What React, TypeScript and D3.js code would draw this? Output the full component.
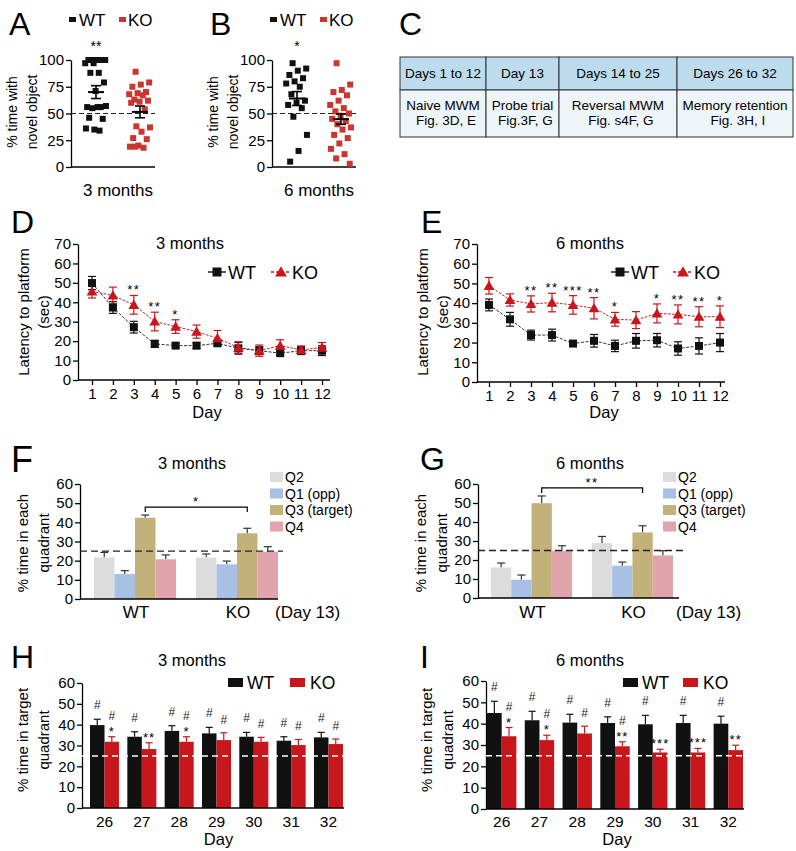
import React, { useEffect, useRef } from "react";
import * as d3 from "d3";

const FONT = "'Liberation Sans', Arial, Helvetica, sans-serif";
const BLACK = "#111111";
const RED = "#c8161d";
const RED_DOT = "#c9352f";

// ---- A / B : novel object recognition (% time with novel object)
const groups = ["WT", "KO"];
const novelTicks = [0, 25, 50, 75, 100];
const novelWT3 = [100, 100, 100, 100, 100, 97, 97, 88, 88, 79, 71, 56, 56, 55, 57, 56, 46, 45, 35, 36, 34];
const novelKO3 = [89, 79, 77, 75, 70, 69, 68, 67, 63, 62, 61, 60, 54, 38, 37, 33, 27, 26, 20, 19, 18, 19];
const novelMean3 = [70, 51.5];
const novelSem3 = [6, 5.5];
const novelWT6 = [97, 92, 90, 86, 83, 80, 78, 75, 68, 62, 60, 58, 55, 47, 30, 15, 5];
const novelKO6 = [97, 77, 72, 70, 67, 62, 58, 55, 52, 50, 48, 45, 43, 40, 37, 35, 30, 27, 22, 17, 12, 8, 3];
const novelMean6 = [64, 44.7];
const novelSem6 = [6.5, 4.8];

// ---- C : protocol table
const phaseDays = ["Days 1 to 12", "Day 13", "Days 14 to 25", "Days 26 to 32"];
const phaseTask = ["Naive MWM", "Probe trial", "Reversal MWM", "Memory retention"];
const phaseFig = ["Fig. 3D, E", "Fig.3F, G", "Fig. s4F, G", "Fig. 3H, I"];

// ---- D / E : latency to platform (sec)
const days = [1, 2, 3, 4, 5, 6, 7, 8, 9, 10, 11, 12];
const latTicks = [0, 10, 20, 30, 40, 50, 60, 70];
const latWT3 = [49.9, 37.3, 27.2, 18.6, 17.7, 17.7, 18.9, 16.3, 15.1, 13.8, 15.1, 15.1];
const latWT3Sem = [3.4, 3, 3, 1.8, 1, 1.5, 1, 3, 2, 1, 2, 2.5];
const latKO3 = [45.6, 43.5, 38.7, 30.1, 27.5, 24.9, 21.5, 16.7, 15.1, 17.7, 15.5, 16.7];
const latKO3Sem = [3.4, 4.3, 4.8, 4.8, 3.5, 3.4, 4, 3, 2.9, 3, 2, 2.6];
const latStars3 = ["", "", "**", "**", "*", "", "", "", "", "", "", ""];
const latWT6 = [39.1, 31.8, 23.8, 23.8, 19.5, 20.9, 18.3, 20.9, 21.2, 17, 18.3, 20];
const latWT6Sem = [3, 3.5, 2.5, 3, 1, 3.2, 2.9, 3.7, 3.4, 3.4, 4.1, 4.6];
const latKO6 = [48.8, 41.6, 39.6, 40.3, 39.1, 37.4, 31.8, 31.4, 34.8, 34.3, 33.1, 33.1];
const latKO6Sem = [4.2, 3.1, 4.1, 4.7, 4.7, 5.4, 3.5, 4.3, 4.8, 4.8, 5.1, 5.5];
const latStars6 = ["", "", "**", "**", "***", "**", "*", "", "*", "**", "**", "*"];

// ---- F / G : probe trial, % time in each quadrant
const quadrants = ["Q2", "Q1 (opp)", "Q3 (target)", "Q4"];
const quadColors = ["#dcdcdc", "#a8c0e4", "#c2b27a", "#e1a3ac"];
const pctTicks = [0, 10, 20, 30, 40, 50, 60];
const probeWT3 = [21.7, 13, 42.4, 20.7];
const probeWT3Sem = [2.6, 1.8, 1.4, 2.3];
const probeKO3 = [21.6, 18.1, 34.3, 24.7];
const probeKO3Sem = [1.9, 1.7, 2.6, 2.6];
const probeWT6 = [16.1, 9.6, 49.9, 24.9];
const probeWT6Sem = [2.3, 2.5, 3.8, 2.6];
const probeKO6 = [28.9, 17, 34.5, 22.4];
const probeKO6Sem = [3.5, 1.9, 3.5, 2.5];

// ---- H / I : memory retention, % time in target quadrant
const retDays = ["26", "27", "28", "29", "30", "31", "32"];
const retWT3 = [39.8, 34.2, 37, 35.8, 34.2, 32.3, 33.9];
const retWT3Sem = [2.8, 2.4, 2.5, 2.9, 2.1, 1.9, 2.4];
const retKO3 = [31.8, 28.3, 31.8, 32.6, 31.8, 30.2, 30.7];
const retKO3Sem = [2.4, 3, 2.4, 3.5, 2.1, 2.7, 2.4];
const retWT3Hash = ["#", "#", "#", "#", "#", "#", "#"];
const retKO3Hash = ["#", "", "#", "#", "#", "#", "#"];
const retKO3Stars = ["*", "**", "*", "", "", "", ""];
const retWT6 = [45, 41.6, 40.5, 40.3, 39.7, 40.3, 40];
const retWT6Sem = [5.5, 4.2, 3.9, 2.9, 4.2, 3.6, 3.5];
const retKO6 = [34.1, 32.3, 35.4, 29.4, 26.5, 26.5, 27.6];
const retKO6Sem = [4.1, 2.3, 3.4, 2.1, 1.5, 1.9, 2.3];
const retWT6Hash = ["#", "#", "#", "#", "#", "#", "#"];
const retKO6Hash = ["#", "#", "#", "#", "", "", ""];
const retKO6Stars = ["*", "*", "", "**", "***", "***", "**"];

// deterministic horizontal spread for the dot plots
const jitter = (i: number, spread: number) => (((i * 0.618034 + 0.3) % 1) - 0.5) * 2 * spread;

function styleAxis(g: any, size: number) {
  g.attr("font-family", FONT).attr("font-size", size);
  g.selectAll(".domain").attr("stroke", "#000").attr("stroke-width", 1.3);
  g.selectAll(".tick line").attr("stroke", "#000").attr("stroke-width", 1.3);
  g.selectAll(".tick text").attr("fill", "#000");
}

function text(svg: any, x: number, y: number, t: string, size: number, anchor = "middle") {
  return svg.append("text").attr("x", x).attr("y", y).attr("text-anchor", anchor)
    .attr("font-size", size).attr("fill", "#000").text(t);
}

function yLabel(svg: any, lines: string[], xs: number[], cy: number, size: number) {
  lines.forEach((t, i) => {
    svg.append("text")
      .attr("transform", `translate(${xs[i]},${cy}) rotate(-90)`)
      .attr("text-anchor", "middle")
      .attr("dominant-baseline", "central")
      .attr("font-size", size)
      .text(t);
  });
}

function hline(svg: any, x1: number, x2: number, y: number, color = "#000", w = 1.3) {
  return svg.append("line").attr("x1", x1).attr("x2", x2).attr("y1", y).attr("y2", y)
    .attr("stroke", color).attr("stroke-width", w);
}

function vline(svg: any, x: number, y1: number, y2: number, color = "#000", w = 1.3) {
  return svg.append("line").attr("x1", x).attr("x2", x).attr("y1", y1).attr("y2", y2)
    .attr("stroke", color).attr("stroke-width", w);
}

function drawScatter(svg: any, o: any) {
  const g = svg.append("g");
  const y = d3.scaleLinear().domain([0, 100]).range([o.yBottom, o.yTop]);
  const x = d3.scalePoint<string>().domain(groups).range([o.x0 + 25, o.x0 + 69]);

  const ay = g.append("g").attr("transform", `translate(${o.x0},0)`)
    .call(d3.axisLeft(y).tickValues(novelTicks).tickSize(5).tickSizeOuter(0).tickPadding(2));
  styleAxis(ay, 15);
  hline(g, o.x0, o.xEnd, o.yBottom);
  hline(g, o.x0, o.xEnd, y(50), "#222", 1.2).attr("stroke-dasharray", "5,3");

  [o.wt, o.ko].forEach((vals: number[], gi: number) => {
    const cx = x(groups[gi]) as number;
    g.append("g").selectAll("rect").data(vals).join("rect")
      .attr("x", (d: number, i: number) => cx + jitter(i, 11) - 3)
      .attr("y", (d: number) => y(d) - 3)
      .attr("width", 6).attr("height", 6)
      .attr("fill", gi === 0 ? BLACK : RED_DOT);
    const m = o.mean[gi], s = o.sem[gi];
    vline(g, cx, y(m - s), y(m + s), "#000", 1.6);
    hline(g, cx - 5, cx + 5, y(m - s), "#000", 1.6);
    hline(g, cx - 5, cx + 5, y(m + s), "#000", 1.6);
    hline(g, cx - 8, cx + 8, y(m), "#000", 2);
  });

  text(g, x("WT") as number, o.yTop - 9, o.star, 14);
  text(g, o.x0 + 47, 196, o.title, 17);

  // legend
  g.append("rect").attr("x", o.x0 - 2).attr("y", 17).attr("width", 7).attr("height", 5).attr("fill", BLACK);
  text(g, o.x0 + 8, 26, "WT", 17, "start");
  g.append("rect").attr("x", o.x0 + 48).attr("y", 17).attr("width", 7).attr("height", 5).attr("fill", RED_DOT);
  text(g, o.x0 + 57, 26, "KO", 17, "start");

  yLabel(g, ["% time with", "novel object"], [o.x0 - 59, o.x0 - 39], 112, 14);
}

function drawTable(svg: any) {
  const g = svg.append("g");
  const cols = [400, 486, 559, 677, 793];
  const top = 57, mid = 90, bottom = 137;
  phaseDays.forEach((d, i) => {
    const x0 = cols[i], x1 = cols[i + 1], cx = (x0 + x1) / 2;
    g.append("rect").attr("x", x0).attr("y", top).attr("width", x1 - x0).attr("height", mid - top)
      .attr("fill", "#bcdcee").attr("stroke", "#333").attr("stroke-width", 1);
    g.append("rect").attr("x", x0).attr("y", mid).attr("width", x1 - x0).attr("height", bottom - mid)
      .attr("fill", "#eef5f8").attr("stroke", "#333").attr("stroke-width", 1);
    text(g, cx, 78, d, 13.5);
    text(g, cx, 110, phaseTask[i], 13.5);
    text(g, cx + 3, 125, phaseFig[i], 13.5);
  });
}

function drawLatency(svg: any, o: any) {
  const g = svg.append("g");
  const y = d3.scaleLinear().domain([0, 70]).range([o.yBottom, o.yTop]);
  const x = d3.scalePoint<number>().domain(days).range([o.xFirst, o.xLast]);

  const ay = g.append("g").attr("transform", `translate(${o.x0},0)`)
    .call(d3.axisLeft(y).tickValues(latTicks).tickSize(5).tickSizeOuter(0).tickPadding(2));
  styleAxis(ay, 15);
  const ax = g.append("g").attr("transform", `translate(0,${o.yBottom})`)
    .call(d3.axisBottom(x).tickSize(5).tickPadding(3));
  styleAxis(ax, 15);
  ax.select(".domain").remove();
  hline(g, o.x0, o.xEnd, o.yBottom);

  const line = d3.line<number>().x((d, i) => x(days[i]) as number).y((d) => y(d));
  g.append("path").attr("d", line(o.wt)).attr("fill", "none").attr("stroke", "#333").attr("stroke-width", 1)
    .attr("stroke-dasharray", "3,1.5");
  g.append("path").attr("d", line(o.ko)).attr("fill", "none").attr("stroke", RED).attr("stroke-width", 1)
    .attr("stroke-dasharray", "2.5,1.5");

  const series = [
    { v: o.wt, s: o.wtSem, c: BLACK },
    { v: o.ko, s: o.koSem, c: RED },
  ];
  series.forEach((sr) => {
    sr.v.forEach((v: number, i: number) => {
      const cx = x(days[i]) as number;
      vline(g, cx, y(v - sr.s[i]), y(v + sr.s[i]), sr.c, 1.2);
      hline(g, cx - 4, cx + 4, y(v - sr.s[i]), sr.c, 1.2);
      hline(g, cx - 4, cx + 4, y(v + sr.s[i]), sr.c, 1.2);
    });
  });
  g.append("g").selectAll("rect").data(o.wt).join("rect")
    .attr("x", (d: number, i: number) => (x(days[i]) as number) - 4)
    .attr("y", (d: number) => y(d) - 4)
    .attr("width", 8).attr("height", 8).attr("fill", BLACK);
  const tri = d3.symbol().type(d3.symbolTriangle).size(50);
  g.append("g").selectAll("path").data(o.ko).join("path")
    .attr("d", tri)
    .attr("transform", (d: number, i: number) => `translate(${x(days[i])},${y(d) + 1})`)
    .attr("fill", RED);

  o.stars.forEach((s: string, i: number) => {
    if (!s) return;
    text(g, x(days[i]) as number, y(o.ko[i] + o.koSem[i]) - 1, s, 13).attr("letter-spacing", 1.5);
  });

  text(g, o.titleX, 249, o.title, 16.5);
  text(g, (o.x0 + o.xEnd) / 2 + 3, 418, "Day", 16.5);
  yLabel(g, ["Latency to platform", "(sec)"], [o.x0 - 55, o.x0 - 35], 312, 15);

  // legend
  const ly = 272;
  hline(g, o.lx - 9, o.lx + 9, ly, "#222", 1.5);
  g.append("rect").attr("x", o.lx - 4.5).attr("y", ly - 4.5).attr("width", 9).attr("height", 9).attr("fill", BLACK);
  text(g, o.lx + 11, ly + 7, "WT", 18, "start");
  hline(g, o.kx - 10, o.kx + 10, ly, RED, 1.5).attr("stroke-dasharray", "3,2");
  g.append("path").attr("d", d3.symbol().type(d3.symbolTriangle).size(60)())
    .attr("transform", `translate(${o.kx},${ly + 1})`).attr("fill", RED);
  text(g, o.kx + 11, ly + 7, "KO", 18, "start");
}

function drawProbe(svg: any, o: any) {
  const g = svg.append("g");
  const y = d3.scaleLinear().domain([0, 60]).range([o.yBottom, o.yTop]);
  const xg = d3.scaleBand<string>().domain(groups).range([o.bandStart, o.bandEnd]).paddingInner(0.196).paddingOuter(0);
  const xq = d3.scaleBand<string>().domain(quadrants).range([0, xg.bandwidth()]);

  const ay = g.append("g").attr("transform", `translate(${o.x0},0)`)
    .call(d3.axisLeft(y).tickValues(pctTicks).tickSize(5).tickSizeOuter(0).tickPadding(2));
  styleAxis(ay, 15);

  const data = [
    { v: o.wt, s: o.wtSem },
    { v: o.ko, s: o.koSem },
  ];
  data.forEach((grp, gi) => {
    const gx = xg(groups[gi]) as number;
    grp.v.forEach((v: number, qi: number) => {
      const bx = gx + (xq(quadrants[qi]) as number);
      const cx = bx + xq.bandwidth() / 2;
      const top = y(v + grp.s[qi]);
      vline(g, cx, y(v), top, "#333", 1.2);
      hline(g, cx - 4, cx + 4, top, "#333", 1.2);
      g.append("rect").attr("x", bx).attr("y", y(v)).attr("width", xq.bandwidth())
        .attr("height", o.yBottom - y(v)).attr("fill", quadColors[qi]);
    });
    text(g, gx + xg.bandwidth() / 2 + 1, 618, groups[gi], 17);
  });
  hline(g, o.x0, o.axisEnd, o.yBottom);
  hline(g, o.x0, o.dashEnd, y(25), "#222", 1.3).attr("stroke-dasharray", "7,4");
  text(g, o.axisEnd - 3, 618, "(Day 13)", 17, "start");

  // bracket between target quadrants
  const q3 = quadrants[2];
  const b1 = (xg("WT") as number) + (xq(q3) as number) + xq.bandwidth() / 2;
  const b2 = (xg("KO") as number) + (xq(q3) as number) + xq.bandwidth() / 2;
  const by = y(Math.max(o.wt[2] + o.wtSem[2], o.ko[2] + o.koSem[2])) - 8;
  g.append("path").attr("d", `M${b1},${by + 5}V${by}H${b2}V${by + 5}`)
    .attr("fill", "none").attr("stroke", "#000").attr("stroke-width", 1.2);
  text(g, (b1 + b2) / 2, by - 1, o.star, 13).attr("letter-spacing", 1.5);

  text(g, o.titleX, 469, o.title, 16.5);
  yLabel(g, ["% time in each", "quadrant"], [o.x0 - 58, o.x0 - 37], 543, 15);

  quadrants.forEach((q, i) => {
    const ry = 477 + i * 16.5;
    g.append("rect").attr("x", o.legendX).attr("y", ry - 5).attr("width", 13).attr("height", 10).attr("fill", quadColors[i]);
    text(g, o.legendX + 15, ry + 5, q, 14, "start");
  });
}

function drawRetention(svg: any, o: any) {
  const g = svg.append("g");
  const y = d3.scaleLinear().domain([0, 60]).range([o.yBottom, o.yTop]);
  const xd = d3.scaleBand<string>().domain(retDays).range([o.bandStart, o.bandEnd]).paddingInner(0.222).paddingOuter(0);
  const xs = d3.scaleBand<string>().domain(groups).range([0, xd.bandwidth()]);

  const ay = g.append("g").attr("transform", `translate(${o.x0},0)`)
    .call(d3.axisLeft(y).tickValues(pctTicks).tickSize(5).tickSizeOuter(0).tickPadding(2));
  styleAxis(ay, 15);

  const series = [
    { v: o.wt, s: o.wtSem, c: BLACK },
    { v: o.ko, s: o.koSem, c: RED },
  ];
  series.forEach((sr, si) => {
    sr.v.forEach((v: number, di: number) => {
      const bx = (xd(retDays[di]) as number) + (xs(groups[si]) as number);
      const cx = bx + xs.bandwidth() / 2;
      const top = y(v + sr.s[di]);
      vline(g, cx, y(v), top, sr.c, 1.2);
      hline(g, cx - 3.5, cx + 3.5, top, sr.c, 1.2);
      g.append("rect").attr("x", bx).attr("y", y(v)).attr("width", xs.bandwidth())
        .attr("height", o.yBottom - y(v)).attr("fill", sr.c);
      if (si === 0) {
        if (o.wtHash[di]) text(g, cx, top - 10, o.wtHash[di], 12).attr("fill", "#222");
      } else {
        const star = o.koStars[di];
        if (star) text(g, cx, top - 1, star, 13).attr("letter-spacing", 1);
        if (o.koHash[di]) text(g, cx, star ? top - 17 : top - 9, o.koHash[di], 12).attr("fill", "#222");
      }
    });
  });
  retDays.forEach((d) => {
    text(g, (xd(d) as number) + xd.bandwidth() / 2, 827, d, 15.5);
  });
  hline(g, o.x0, o.bandEnd + 1, o.yBottom);
  hline(g, o.x0, o.bandEnd, y(25), "#fff", 1.5).attr("stroke-dasharray", "6,4");

  text(g, o.titleX, 666, o.title, 16.5);
  text(g, (o.bandStart + o.bandEnd) / 2 + 2, 845, "Day", 16.5);
  yLabel(g, ["% time in target", "quadrant"], [o.x0 - 60, o.x0 - 39], 740, 15);

  // legend
  g.append("rect").attr("x", o.lx).attr("y", 678).attr("width", 15).attr("height", 9).attr("fill", BLACK);
  text(g, o.lx + 19, 689, "WT", 17.5, "start");
  g.append("rect").attr("x", o.kx).attr("y", 678).attr("width", 15).attr("height", 9).attr("fill", RED);
  text(g, o.kx + 20, 689, "KO", 17.5, "start");
}

function letter(svg: any, t: string, x: number, y: number, size = 32) {
  svg.append("text").attr("x", x).attr("y", y).attr("font-size", size).attr("fill", "#000").text(t);
}

export default function App() {
  const svgRef = useRef<SVGSVGElement>(null);

  useEffect(() => {
    const svg = d3.select(svgRef.current);
    svg.selectAll("*").remove();
    svg.attr("font-family", FONT);
    svg.append("rect").attr("width", 796).attr("height", 851).attr("fill", "#fff");

    letter(svg, "A", 9, 35);
    letter(svg, "B", 210, 35);
    letter(svg, "C", 399, 35);
    letter(svg, "D", 11, 233);
    letter(svg, "E", 421, 233);
    letter(svg, "F", 11, 472, 36);
    letter(svg, "G", 420, 470);
    letter(svg, "H", 11, 668);
    letter(svg, "I", 420, 668);

    drawScatter(svg, { x0: 71, xEnd: 155, yTop: 60, yBottom: 167, wt: novelWT3, ko: novelKO3, mean: novelMean3, sem: novelSem3, star: "**", title: "3 months" });
    drawScatter(svg, { x0: 272, xEnd: 356, yTop: 60, yBottom: 167, wt: novelWT6, ko: novelKO6, mean: novelMean6, sem: novelSem6, star: "*", title: "6 months" });
    drawTable(svg);

    drawLatency(svg, { x0: 78, xFirst: 92, xLast: 322, xEnd: 330, yTop: 244, yBottom: 380, wt: latWT3, wtSem: latWT3Sem, ko: latKO3, koSem: latKO3Sem, stars: latStars3, title: "3 months", titleX: 190, lx: 217, kx: 281 });
    drawLatency(svg, { x0: 477, xFirst: 489, xLast: 720, xEnd: 725, yTop: 244, yBottom: 382, wt: latWT6, wtSem: latWT6Sem, ko: latKO6, koSem: latKO6Sem, stars: latStars6, title: "6 months", titleX: 590, lx: 620, kx: 683 });

    drawProbe(svg, { x0: 80, bandStart: 94, bandEnd: 278, axisEnd: 278, dashEnd: 283, yTop: 484, yBottom: 599, wt: probeWT3, wtSem: probeWT3Sem, ko: probeKO3, koSem: probeKO3Sem, star: "*", title: "3 months", titleX: 192, legendX: 270 });
    drawProbe(svg, { x0: 478, bandStart: 491, bandEnd: 673, axisEnd: 679, dashEnd: 687, yTop: 484, yBottom: 598, wt: probeWT6, wtSem: probeWT6Sem, ko: probeKO6, koSem: probeKO6Sem, star: "**", title: "6 months", titleX: 590, legendX: 663 });

    drawRetention(svg, { x0: 82, bandStart: 90, bandEnd: 343, yTop: 683, yBottom: 808, wt: retWT3, wtSem: retWT3Sem, ko: retKO3, koSem: retKO3Sem, wtHash: retWT3Hash, koHash: retKO3Hash, koStars: retKO3Stars, title: "3 months", titleX: 192, lx: 228, kx: 290 });
    drawRetention(svg, { x0: 486, bandStart: 487, bandEnd: 743, yTop: 681, yBottom: 809, wt: retWT6, wtSem: retWT6Sem, ko: retKO6, koSem: retKO6Sem, wtHash: retWT6Hash, koHash: retKO6Hash, koStars: retKO6Stars, title: "6 months", titleX: 590, lx: 623, kx: 683 });
  }, []);

  return (
    <div style={{ position: "absolute", left: 0, top: 0 }}>
      <svg ref={svgRef} width={796} height={851} style={{ display: "block" }} />
    </div>
  );
}
